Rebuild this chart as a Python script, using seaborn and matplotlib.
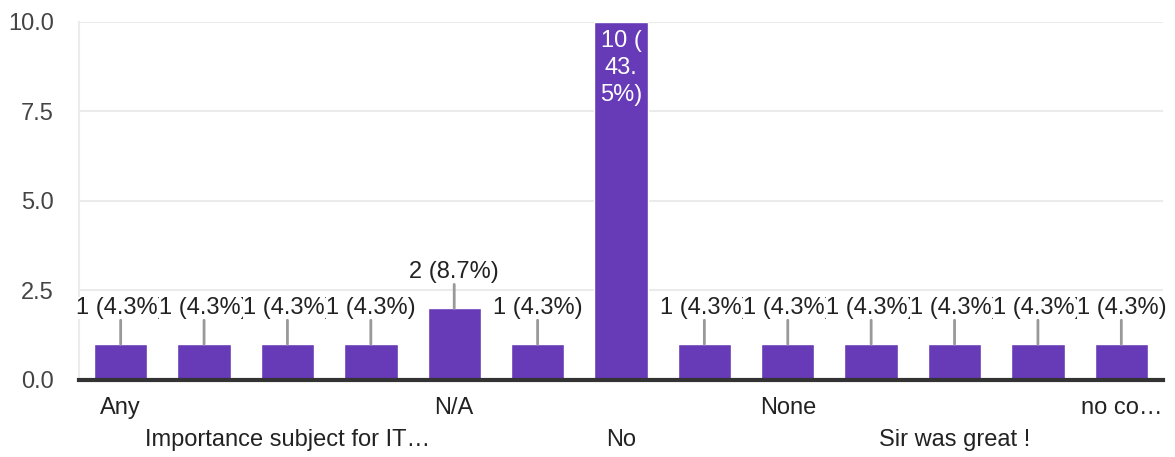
import matplotlib
matplotlib.use("Agg")
import matplotlib.pyplot as plt
import seaborn as sns
import pandas as pd

# Responses (only every other category name is visible on the axis)
categories = ["Any", "Good", "Importance subject for IT…", "Nice", "N/A", "Nil",
              "No", "No comments", "None", "Nothing", "Sir was great !", "Thanks",
              "no co…"]
counts = [1, 1, 1, 1, 2, 1, 10, 1, 1, 1, 1, 1, 1]
# which tick labels are shown, and on which row (0 = upper, 1 = lower)
shown_ticks = {0: 0, 2: 1, 4: 0, 6: 1, 8: 0, 10: 1, 12: 0}

BAR_COLOR = "#673ab7"
total = sum(counts)

df = pd.DataFrame({"answer": categories, "count": counts})

sns.set_style("white")
plt.rcParams["font.family"] = ["Liberation Sans", "DejaVu Sans"]

fig = plt.figure(figsize=(11.75, 4.57), dpi=100)
ax = fig.add_axes([0.0672, 0.1685, 0.9226, 0.7834])

sns.barplot(data=df, x="answer", y="count", order=categories,
            color=BAR_COLOR, saturation=1, width=0.64, ax=ax, zorder=3)

ax.set_xlim(-0.5, len(categories) - 0.5)
ax.set_ylim(0, 10)
ax.set_yticks([0, 2.5, 5, 7.5, 10])
ax.set_yticklabels(["0.0", "2.5", "5.0", "7.5", "10.0"], fontsize=17, color="#444444")
ax.yaxis.grid(True, color="#ebebeb", linewidth=1.5, zorder=0)
ax.tick_params(axis="y", length=0, pad=18)
ax.set_xlabel("")
ax.set_ylabel("")

for side in ["top", "right"]:
    ax.spines[side].set_visible(False)
ax.spines["left"].set_color("#ebebeb")
ax.spines["left"].set_linewidth(1.5)
ax.spines["bottom"].set_color("#333333")
ax.spines["bottom"].set_linewidth(3)
ax.spines["bottom"].set_zorder(5)

# two-row staggered category labels
ax.set_xticks([])
for i, row in shown_ticks.items():
    ax.annotate(categories[i], xy=(i, 0), xytext=(0, -28 - 32 * row),
                textcoords="offset pixels", ha="center", va="center",
                fontsize=17, color="#222222")

# value labels
for i, c in enumerate(counts):
    pct = f"{100 * c / total:.1f}"
    if c >= 5:
        # big bar: label wrapped inside the bar
        txt = f"{c} (\n{pct[:3]}\n{pct[3:]}%)"
        ax.annotate(txt, xy=(i, c), xytext=(0, -8), textcoords="offset pixels",
                    ha="center", va="top", fontsize=17, color="white",
                    linespacing=1.3, zorder=6)
    else:
        ax.annotate("", xy=(i, c), xytext=(0, 24), textcoords="offset pixels",
                    arrowprops=dict(arrowstyle="-", color="#999999", lw=2,
                                    shrinkA=0, shrinkB=0), zorder=4)
        ax.annotate(f"{c} ({pct}%)", xy=(i, c), xytext=(0, 36),
                    textcoords="offset pixels", ha="center", va="center",
                    fontsize=17, color="#222222", zorder=6,
                    bbox=dict(facecolor="white", edgecolor="none", pad=0))

fig.savefig("out.png", dpi=100)
